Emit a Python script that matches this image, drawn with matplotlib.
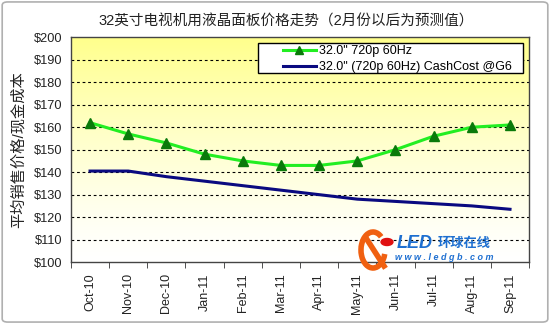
import numpy as np
import matplotlib
matplotlib.use('Agg')
from matplotlib import pyplot as plt
from matplotlib.patches import FancyBboxPatch, Rectangle, Arc, Circle

plt.rcParams['font.family'] = ['Liberation Sans', 'Noto Sans CJK SC', 'DejaVu Sans']

months = ['Oct-10', 'Nov-10', 'Dec-10', 'Jan-11', 'Feb-11', 'Mar-11',
          'Apr-11', 'May-11', 'Jun-11', 'Jul-11', 'Aug-11', 'Sep-11']
asp_720p = [162, 157, 153, 148, 145, 143, 143, 145, 150, 156, 160, 161]
cash_cost = [140.5, 140.5, 138, 136, 134, 132, 130, 128, 127, 126, 125, 123.5]
yticks = [100, 110, 120, 130, 140, 150, 160, 170, 180, 190, 200]

fig = plt.figure(figsize=(5.5, 3.24), dpi=100)
fig.patches.append(FancyBboxPatch((0.004, 0.006), 0.992, 0.988,
                                  boxstyle='round,pad=0,rounding_size=0.01',
                                  transform=fig.transFigure, fc='white',
                                  ec='#b0b0b0', lw=1.2, zorder=-10))

ax = fig.add_axes([0.129, 0.191, 0.833, 0.694])
x = np.arange(len(months))

# yellow -> white gradient background
grad = np.linspace(1, 0, 256)
cols = np.ones((256, 1, 3))
cols[:, 0, 2] = 1 - 0.45 * grad ** 1.3
ax.imshow(cols, extent=[0, 1, 0, 1], transform=ax.transAxes,
          aspect='auto', zorder=0)

ax.set_xlim(-0.5, len(months) - 0.5)
ax.set_ylim(100, 200)
for v in yticks[1:-1]:
    ax.axhline(v, color='black', lw=0.8, ls=(0, (2.5, 2.5)), zorder=1)

ax.plot(x, asp_720p, color='#22ee22', lw=2.2, marker='^', ms=7.5,
        mfc='#0a7a0a', mec='#0a7a0a', label='32.0" 720p 60Hz', zorder=3)
ax.plot(x, cash_cost, color='#0a0a80', lw=2.2,
        label='32.0" (720p 60Hz) CashCost @G6', zorder=3)

ax.set_yticks(yticks)
ax.set_yticklabels(['$%d' % v for v in yticks], fontsize=9.2, color='#222222')
ax.tick_params(axis='y', length=0, pad=6)
ax.set_xticks(x)
ax.set_xticklabels(months, rotation=90, fontsize=9, color='#222222')
ax.tick_params(axis='x', length=0, pad=8)
ax.set_xticks(np.arange(len(months) + 1) - 0.5, minor=True)
ax.tick_params(axis='x', which='minor', length=4, direction='out', color='#333333')
for s in ax.spines.values():
    s.set_color('#444444')
    s.set_linewidth(1)

ax.set_ylabel('平均销售价格/现金成本', fontsize=11, color='#222222', labelpad=6)

# legend box drawn separately to get the wide left margin
ax.add_patch(Rectangle((0.408, 0.84), 0.579, 0.133, transform=ax.transAxes,
                       fc='white', ec='black', lw=1, zorder=4))
leg = ax.legend(loc='upper left', bbox_to_anchor=(0.463, 0.965), fontsize=9,
                frameon=False, borderpad=0, labelspacing=0.3,
                handlelength=2.6, handletextpad=0.25, borderaxespad=0,
                markerscale=0.85)
leg.set_zorder(5)

fig.text(0.52, 0.935, '32英寸电视机用液晶面板价格走势（2月份以后为预测值）',
         ha='center', va='center', fontsize=10.5, color='#222222')

# watermark logo
fig.patches.append(Arc((373 / 550, 1 - 250 / 324), 24 / 550, 36 / 324,
                       theta1=70, theta2=330, lw=4, color='#f06010',
                       transform=fig.transFigure))
fig.lines.append(plt.Line2D([366 / 550, 384 / 550], [1 - 238 / 324, 1 - 266 / 324],
                            lw=4, color='#f06010', transform=fig.transFigure))
fig.patches.append(Circle((387 / 550, 1 - 242 / 324), 3.5 / 324, color='#e01010',
                          transform=fig.transFigure))
fig.text(397 / 550, 1 - 244 / 324, 'LED', fontsize=13, fontweight='bold',
         style='italic', color='#1d6fd0', ha='left', va='center')
fig.text(438 / 550, 1 - 244 / 324, '环球在线', fontsize=9.5, fontweight='bold',
         color='#1d6fd0', ha='left', va='center')
fig.text(395 / 550, 1 - 258 / 324, 'w w w . l e d g b . c o m', fontsize=6.5,
         fontweight='bold', style='italic', color='#1d6fd0', ha='left', va='center')

fig.savefig('out.png', dpi=100)
